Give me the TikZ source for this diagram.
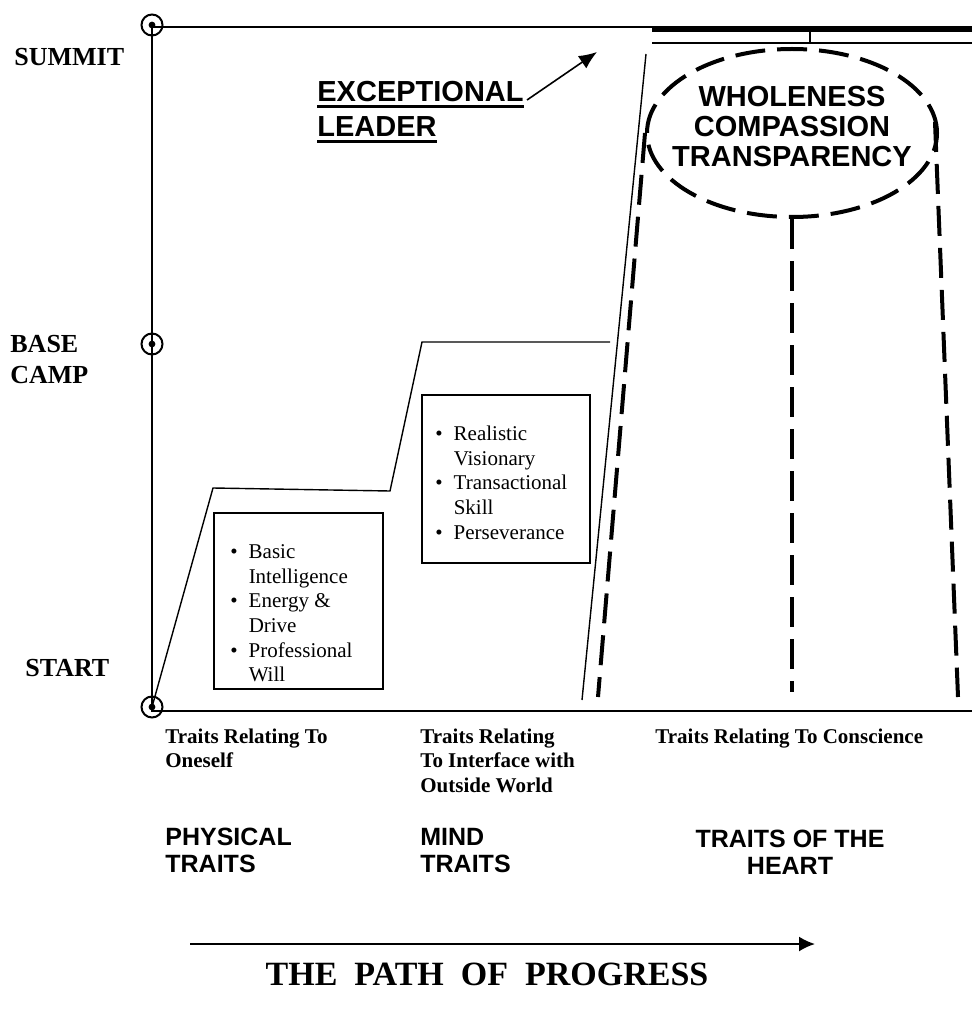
\documentclass[tikz,border=0pt]{standalone}
\usepackage{fontspec}
\setmainfont{Liberation Serif}
\setsansfont{Liberation Sans}
\usetikzlibrary{shapes.geometric,arrows.meta}

% thick underline for the leader label
\newcommand{\thickul}[1]{\setbox0\hbox{#1}\rlap{\rule[-3pt]{\wd0}{1.3pt}}\box0}

\begin{document}
\begin{tikzpicture}[x=0.5pt,y=-0.5pt,
  axis/.style={line width=1pt},
  trail/.style={line width=0.7pt},
  heartdash/.style={line width=2pt,dash pattern=on 15pt off 6pt},
  pointer/.style={line width=0.8pt,-{Latex[length=9pt,width=7.5pt]}},
  marker/.style={circle,draw,line width=1pt,minimum size=10.5pt,inner sep=0pt,
    path picture={\fill (path picture bounding box.center) circle (1.7pt);}},
  level/.style={font=\bfseries\fontsize{13}{15.5}\selectfont,align=left,inner sep=0pt,anchor=base west},
  bullets/.style={font=\fontsize{10.5}{12.3}\selectfont,inner sep=0pt,anchor=north west},
  traitnote/.style={font=\bfseries\fontsize{10.5}{12.3}\selectfont,align=left,inner sep=0pt,anchor=base west},
  traitname/.style={font=\sffamily\bfseries\fontsize{12.5}{13.5}\selectfont,align=left,inner sep=0pt,anchor=base west},
  bigsans/.style={font=\sffamily\bfseries\fontsize{14.5}{15}\selectfont,align=center,inner sep=0pt}]
\useasboundingbox (0,0) rectangle (972,1016);

% Axes and level markers
\draw[axis] (972,27) -- (152,27) -- (152,711) -- (972,711);
\node[marker] (summitmark) at (152,25) {};
\node[marker] (basemark) at (152,344) {};
\node[marker] (startmark) at (152,707) {};
\node[level] (summit) at (14,66) {SUMMIT};
\node[level] (basecamp) at (10,383) {BASE\\CAMP};
\node[level] (start) at (25,676) {START};

% Summit ledge
\draw[line width=2.5pt] (652,29.5) -- (972,29.5);
\draw[axis] (652,43) -- (972,43);
\draw[axis] (810,29.5) -- (810,43);

% Climbing path
\draw[trail] (startmark.center) -- (213,488) -- (390,491) -- (422,342) -- (610,342);
\draw[trail] (582,700) -- (646,54);

% Trait boxes
\draw[trail] (214,513) rectangle (383,689);
\node[bullets] (selflist) at (230,541) {\begin{tabular}{@{}l@{\hspace{5.5pt}}l@{}}
  \textbullet & Basic\\ & Intelligence\\ \textbullet & Energy \&\\ & Drive\\
  \textbullet & Professional\\ & Will\end{tabular}};
\draw[trail] (422,395) rectangle (590,563);
\node[bullets] (mindlist) at (435,423) {\begin{tabular}{@{}l@{\hspace{5.5pt}}l@{}}
  \textbullet & Realistic\\ & Visionary\\ \textbullet & Transactional\\ & Skill\\
  \textbullet & Perseverance\end{tabular}};

% Exceptional leader
\node[bigsans,align=left,anchor=base west,font=\sffamily\bfseries\fontsize{14.5}{17.5}\selectfont]
  (leader) at (317,137) {\thickul{EXCEPTIONAL}\\\thickul{LEADER}};
\coordinate (leadertail) at (527,100);
\coordinate (leadertip) at (597,52);
\draw[pointer] (leadertail) -- (leadertip);

% Heart ellipse and pillars
\node[ellipse,draw,heartdash,minimum width=145pt,minimum height=84pt,inner sep=0pt] (heart) at (792,133) {};
\node[bigsans] (heartwords) at (792,127) {WHOLENESS\\COMPASSION\\TRANSPARENCY};
\coordinate (leftfoot) at (598,697);
\coordinate (midfoot) at (792,692);
\coordinate (rightfoot) at (958,697);
\draw[heartdash] (heart.west) -- (leftfoot);
\draw[heartdash] (heart.south) -- (midfoot);
\draw[heartdash] (935,122) -- (rightfoot);

% Trait captions
\node[traitnote] (selfnote) at (165,767.6) {Traits Relating To\\Oneself};
\node[traitnote] (mindnote) at (420,792.2) {Traits Relating\\To Interface with\\Outside World};
\node[traitnote] (heartnote) at (655,743) {Traits Relating To Conscience};
\node[traitname] (physical) at (165,872) {PHYSICAL\\TRAITS};
\node[traitname] (mindname) at (420,872) {MIND\\TRAITS};
\node[traitname,align=center,anchor=base] (heartname) at (790,874) {TRAITS OF THE\\HEART};

% Path of progress
\coordinate (pathstart) at (190,944);
\coordinate (pathend) at (815,944);
\draw[line width=1pt,-{Latex[length=8pt,width=7.5pt]}] (pathstart) -- (pathend);
\node[font=\bfseries\fontsize{17}{20}\selectfont,anchor=base,inner sep=0pt] (pathtitle) at (487,985)
  {THE\ \ PATH\ \ OF\ \ PROGRESS};
\end{tikzpicture}
\end{document}
